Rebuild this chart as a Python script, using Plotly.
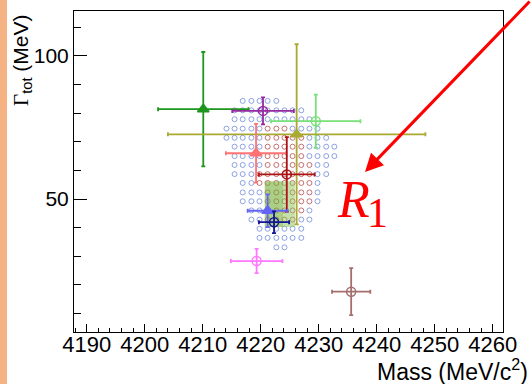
import plotly.graph_objects as go

# ---------------- data ----------------
# scan grid of (mass, width) points
grid_mass = [4214.1, 4215.5, 4216.9, 4218.4, 4219.8, 4221.2, 4222.7,
             4224.1, 4225.5, 4227.0, 4228.4, 4229.8, 4231.3, 4232.7]
grid_width = [84.3, 81.0, 77.9, 74.6, 71.4, 68.3, 65.0, 61.9, 58.7,
              55.6, 52.3, 49.2, 46.0, 42.8, 39.6, 36.4, 33.1]
# first/last grid column present in each row (outer region)
grid_cols = [(2, 6), (1, 9), (1, 10), (0, 11), (0, 12), (1, 13), (1, 13), (1, 12), (1, 12),
             (2, 11), (2, 11), (2, 11), (3, 10), (3, 10), (4, 9), (4, 9), (6, 7)]
# first/last grid column of the inner (red) region in each row
inner_cols = [None, None, None, (5, 7), (5, 9), (5, 9), (5, 9), (5, 10), (4, 10),
              (4, 10), (5, 10), (5, 10), (5, 9), (5, 8), None, None, None]

# measurements
mass = [4210.1, 4220.4, 4229.5, 4226.2, 4219.2, 4224.5, 4221.2, 4222.3, 4219.3, 4235.6]
mass_err = [7.8, 5.3, 7.7, 22.2, 5.2, 4.8, 3.45, 2.6, 4.45, 3.3]
width = [81.4, 80.8, 77.2, 72.6, 66.0, 58.6, 45.9, 41.9, 28.3, 17.6]
width_err = [20.0, 4.7, 9.3, 31.5, 10.3, 13.0, 5.7, 3.8, 4.25, 8.2]
colors = ["rgb(30,150,30)", "rgb(150,40,160)", "rgb(120,225,120)", "rgb(170,170,50)",
          "rgb(255,115,115)", "rgb(170,20,20)", "rgb(100,100,245)", "rgb(20,20,150)",
          "rgb(255,120,255)", "rgb(165,110,110)"]
symbols = ["triangle-up", "circle-open", "circle-open", "triangle-up", "triangle-up",
           "circle-open", "triangle-up", "circle-open", "circle-open", "circle-open"]

# shaded band
band_mass = [4220.7, 4223.9, 4225.9]
band_width = [40.2, 56.2]

x_ticks = [4190, 4200, 4210, 4220, 4230, 4240, 4250, 4260]
y_ticks = [50, 100]

# ---------------- layout geometry ----------------
W, H = 531, 384
L, R, T, B = 74, 28, 11, 52
PW, PH = W - L - R, H - T - B


def px(xp):
    return (xp - L) / PW


def py(yp):
    return (H - B - yp) / PH


fig = go.Figure()

# grid points
bx, by, rx, ry = [], [], [], []
for ri, g in enumerate(grid_width):
    c0, c1 = grid_cols[ri]
    inner = inner_cols[ri]
    for ci in range(c0, c1 + 1):
        if inner is not None and inner[0] <= ci <= inner[1]:
            rx.append(grid_mass[ci]); ry.append(g)
        else:
            bx.append(grid_mass[ci]); by.append(g)

fig.add_trace(go.Scatter(x=bx, y=by, mode="markers",
                         marker=dict(symbol="circle-open", size=5,
                                     line=dict(width=1, color="rgba(95,125,215,0.7)"),
                                     color="rgba(95,125,215,0.7)")))
fig.add_trace(go.Scatter(x=rx, y=ry, mode="markers",
                         marker=dict(symbol="circle-open", size=5,
                                     line=dict(width=1, color="rgba(175,55,55,0.7)"),
                                     color="rgba(175,55,55,0.7)")))

# shaded band (two tones)
fig.add_trace(go.Scatter(x=[band_mass[0], band_mass[1], band_mass[1], band_mass[0], band_mass[0]],
                         y=[band_width[0], band_width[0], band_width[1], band_width[1], band_width[0]],
                         mode="lines", fill="toself", fillcolor="rgba(115,175,55,0.6)",
                         line=dict(width=0)))
fig.add_trace(go.Scatter(x=[band_mass[1], band_mass[2], band_mass[2], band_mass[1], band_mass[1]],
                         y=[band_width[0], band_width[0], band_width[1], band_width[1], band_width[0]],
                         mode="lines", fill="toself", fillcolor="rgba(140,195,85,0.5)",
                         line=dict(width=0)))

# measurements with error bars
for i in range(len(mass)):
    col = colors[i]
    fig.add_trace(go.Scatter(
        x=[mass[i]], y=[width[i]], mode="markers",
        marker=dict(symbol=symbols[i], size=10 if symbols[i] == "triangle-up" else 9,
                    color=col, line=dict(width=1.5, color=col)),
        error_x=dict(type="data", array=[mass_err[i]], color=col, thickness=1.8, width=2),
        error_y=dict(type="data", array=[width_err[i]], color=col, thickness=1.8, width=2),
    ))

font_y = dict(family="Liberation Sans", size=21, color="black")
font_x = dict(family="Liberation Sans", size=22, color="black")

fig.update_layout(
    width=W, height=H, margin=dict(l=L, r=R, t=T, b=B),
    paper_bgcolor="white", plot_bgcolor="white", showlegend=False,
    xaxis=dict(range=[4187.81, 4261.78], tickmode="array", tickvals=x_ticks,
               ticktext=[str(v) for v in x_ticks],
               ticks="inside", ticklen=8, tickwidth=1, tickcolor="black",
               ticklabelstandoff=-7,
               minor=dict(dtick=2, tick0=4190, ticks="inside", ticklen=4, tickwidth=1,
                          tickcolor="black", showgrid=False),
               showline=True, linecolor="black", linewidth=1, mirror=True,
               showgrid=False, zeroline=False, tickfont=font_x),
    yaxis=dict(range=[3.5, 115.73], tickmode="array", tickvals=y_ticks,
               ticktext=[str(v) for v in y_ticks],
               ticks="inside", ticklen=13, tickwidth=1, tickcolor="black",
               minor=dict(dtick=10, tick0=0, ticks="inside", ticklen=7, tickwidth=1,
                          tickcolor="black", showgrid=False),
               showline=True, linecolor="black", linewidth=1, mirror=True,
               showgrid=False, zeroline=False, tickfont=font_y),
    shapes=[dict(type="rect", xref="paper", yref="paper",
                 x0=px(0), x1=px(7), y0=py(H), y1=py(0),
                 fillcolor="#F5B283", line=dict(width=0), layer="below")],
    annotations=[
        dict(text="Mass (MeV/c<sup>2</sup>)", xref="paper", yref="paper",
             x=px(530), y=py(369.5), xanchor="right", yanchor="middle",
             showarrow=False, font=dict(family="Liberation Sans", size=23, color="black")),
        dict(text="<span style=\"font-family:'Liberation Serif'\">Γ</span><sub>tot</sub> (MeV)",
             xref="paper", yref="paper",
             x=px(22), y=py(61), xanchor="center", yanchor="middle", textangle=-90,
             showarrow=False, font=dict(family="Liberation Sans", size=21, color="black")),
        dict(text="", xref="paper", yref="paper", x=px(365), y=py(172),
             showarrow=True, ax=190, ay=-197, arrowcolor="red", arrowwidth=3,
             arrowhead=2, arrowsize=1.2, standoff=0),
        dict(text="<i>R</i>", xref="paper", yref="paper", x=px(353), y=py(200),
             xanchor="center", yanchor="middle", showarrow=False,
             font=dict(family="Liberation Serif", size=52, color="red")),
        dict(text="1", xref="paper", yref="paper", x=px(377.5), y=py(212.5),
             xanchor="center", yanchor="middle", showarrow=False,
             font=dict(family="Liberation Serif", size=42, color="red")),
    ],
)

fig.write_html("out.html", config={"displayModeBar": False},
               post_script="document.body.style.margin='0';")
